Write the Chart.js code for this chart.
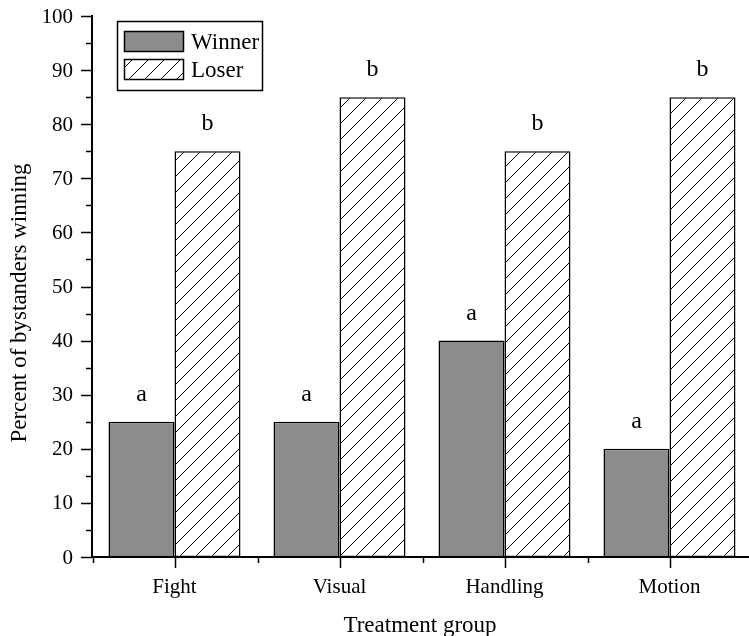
<!DOCTYPE html>
<html>
<head>
<meta charset="utf-8">
<script src="https://cdn.jsdelivr.net/npm/chart.js@4.4.1/dist/chart.umd.min.js"></script>
<style>
  html, body { margin: 0; padding: 0; background: #fff; overflow: hidden; }
  #wrap { width: 756px; height: 636px; }
</style>
</head>
<body>
<div id="wrap"><canvas id="barChart" width="756" height="636"></canvas></div>
<script>
// CHART DATA
var categories = ['Fight', 'Visual', 'Handling', 'Motion'];
var winnerValues = [25, 25, 40, 20];
var loserValues = [75, 85, 75, 85];
var winnerLetters = ['a', 'a', 'a', 'a'];
var loserLetters = ['b', 'b', 'b', 'b'];
var seriesNames = ['Winner', 'Loser'];
var yTicks = [0, 10, 20, 30, 40, 50, 60, 70, 80, 90, 100];

var serif = '"Liberation Serif", "DejaVu Serif", serif';

// HATCH PATTERN FOR LOSER BARS
function makeHatch() {
  var size = 16;
  var c = document.createElement('canvas');
  c.width = size; c.height = size;
  var g = c.getContext('2d');
  g.fillStyle = '#fff';
  g.fillRect(0, 0, size, size);
  g.strokeStyle = '#000';
  g.lineWidth = 1;
  g.beginPath();
  g.moveTo(0, size); g.lineTo(size, 0);
  g.moveTo(-2, 2); g.lineTo(2, -2);
  g.moveTo(size - 2, size + 2); g.lineTo(size + 2, size - 2);
  g.stroke();
  return g.createPattern(c, 'repeat');
}
var ctx = document.getElementById('barChart').getContext('2d');
var hatch = makeHatch();

// TICKS, LETTERS, LEGEND AND AXIS TITLES
var extrasPlugin = {
  id: 'extras',
  afterDraw: function (chart) {
    var c = chart.ctx;
    var area = chart.chartArea;
    var xs = chart.scales.x, ys = chart.scales.y;
    c.save();
    c.strokeStyle = '#000';
    c.fillStyle = '#000';
    c.lineWidth = 1.5;
    // y ticks, major every 10 and minor every 5
    for (var v = 0; v <= 100; v += 5) {
      var py = Math.round(ys.getPixelForValue(v)) + 0.5;
      var len = (v % 10 === 0) ? 11 : 6;
      c.beginPath();
      c.moveTo(area.left - len, py);
      c.lineTo(area.left, py);
      c.stroke();
    }
    // y tick labels
    c.font = '21px ' + serif;
    c.textAlign = 'right';
    c.textBaseline = 'middle';
    yTicks.forEach(function (t) {
      c.fillText(String(t), 73, ys.getPixelForValue(t) + 1);
    });
    // x ticks, major at centers and minor at boundaries
    var half = (xs.getPixelForValue(1) - xs.getPixelForValue(0)) / 2;
    for (var i = 0; i < categories.length; i++) {
      var px = Math.round(xs.getPixelForValue(i)) + 0.5;
      c.beginPath();
      c.moveTo(px, area.bottom);
      c.lineTo(px, area.bottom + 11);
      c.moveTo(Math.round(px - half) + 0.5, area.bottom);
      c.lineTo(Math.round(px - half) + 0.5, area.bottom + 6);
      c.stroke();
    }
    // significance letters above bars
    c.font = '24px ' + serif;
    c.textAlign = 'center';
    c.textBaseline = 'alphabetic';
    [winnerLetters, loserLetters].forEach(function (letters, di) {
      chart.getDatasetMeta(di).data.forEach(function (bar, j) {
        c.fillText(letters[j], bar.x, bar.y - 21);
      });
    });
    // legend
    c.lineWidth = 1.5;
    c.strokeRect(117.5, 21.5, 145, 69);
    var sw = [[124, 31], [124, 59]];
    chart.data.datasets.forEach(function (ds, di) {
      c.fillStyle = ds.backgroundColor;
      c.fillRect(sw[di][0], sw[di][1], 59, 20);
      c.strokeRect(sw[di][0] + 0.5, sw[di][1] + 0.5, 59, 20);
      c.fillStyle = '#000';
      c.font = '23px ' + serif;
      c.textAlign = 'left';
      c.fillText(ds.label, 191, sw[di][1] + 18);
    });
    // axis titles
    c.font = '23px ' + serif;
    c.textAlign = 'center';
    c.fillText('Treatment group', 420, 632);
    c.translate(26, 303);
    c.rotate(-Math.PI / 2);
    c.fillText('Percent of bystanders winning', 0, 0);
    c.restore();
  }
};

var barChart = new Chart(ctx, {
  type: 'bar',
  data: {
    labels: categories,
    datasets: [
      {
        label: seriesNames[0],
        data: winnerValues,
        backgroundColor: '#8c8c8c',
        borderColor: '#000',
        borderWidth: 1.5,
        borderSkipped: false,
      },
      {
        label: seriesNames[1],
        data: loserValues,
        backgroundColor: hatch,
        borderColor: '#000',
        borderWidth: 1.5,
        borderSkipped: false,
      },
    ],
  },
  options: {
    responsive: false,
    animation: false,
    devicePixelRatio: 1,
    layout: { padding: { top: 16, right: 4, left: 0, bottom: 0 } },
    datasets: { bar: { categoryPercentage: 0.8, barPercentage: 1.0 } },
    scales: {
      x: {
        type: 'category',
        offset: true,
        grid: { display: false },
        border: { display: true, color: '#000', width: 2 },
        ticks: { color: '#000', font: { family: serif, size: 21 }, padding: 10, maxRotation: 0 },
        afterFit: function (scale) { scale.height = 79; },
      },
      y: {
        min: 0,
        max: 100,
        grid: { display: false },
        border: { display: true, color: '#000', width: 2 },
        ticks: { display: false, stepSize: 10 },
        afterFit: function (scale) { scale.width = 92; },
      },
    },
    plugins: {
      legend: { display: false },
      tooltip: { enabled: false },
    },
  },
  plugins: [extrasPlugin],
});
</script>
</body>
</html>
